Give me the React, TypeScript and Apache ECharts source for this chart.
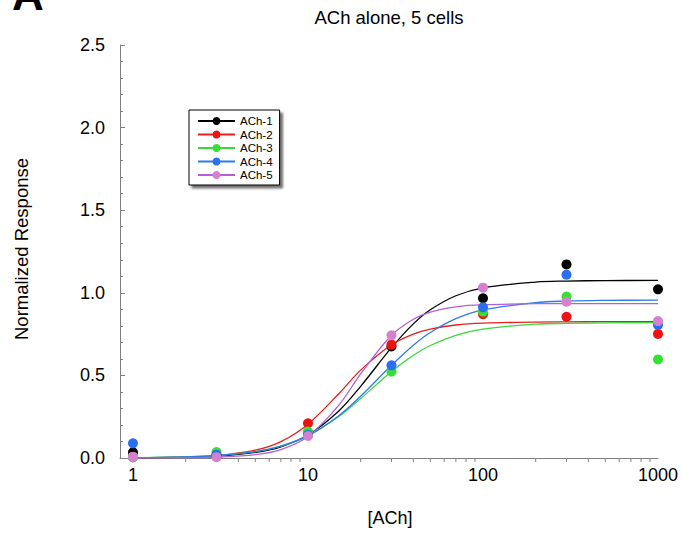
import React, { useEffect, useRef } from "react";
import * as echarts from "echarts";

// Measured concentrations and responses
const concentrations = [1, 3, 10, 30, 100, 300, 1000];
const ach1 = [0.035, 0.015, 0.15, 0.675, 0.967, 1.172, 1.021];
const ach2 = [0.005, 0.01, 0.21, 0.686, 0.87, 0.855, 0.751];
const ach3 = [0.005, 0.036, 0.16, 0.523, 0.886, 0.977, 0.597];
const ach4 = [0.089, 0.02, 0.14, 0.561, 0.912, 1.11, 0.805];
const ach5 = [0.008, 0.005, 0.133, 0.743, 1.031, 0.946, 0.829];

// Fitted curves at these concentrations
const fitX = [1, 2, 3, 5, 7, 10, 15, 20, 30, 40, 50, 70, 100, 200, 300, 500, 1000];
const fit1 = [0.001, 0.005, 0.011, 0.034, 0.068, 0.139, 0.285, 0.434, 0.668, 0.812, 0.897, 0.982, 1.03, 1.065, 1.071, 1.074, 1.075];
const fit2 = [0.001, 0.005, 0.014, 0.047, 0.099, 0.205, 0.389, 0.532, 0.685, 0.75, 0.78, 0.805, 0.816, 0.823, 0.824, 0.825, 0.825];
const fit3 = [0.002, 0.006, 0.014, 0.038, 0.072, 0.134, 0.251, 0.36, 0.523, 0.622, 0.681, 0.743, 0.78, 0.81, 0.815, 0.818, 0.82];
const fit4 = [0.002, 0.007, 0.015, 0.039, 0.072, 0.135, 0.256, 0.374, 0.561, 0.683, 0.76, 0.844, 0.897, 0.941, 0.95, 0.954, 0.956];
const fit5 = [0.0, 0.001, 0.005, 0.02, 0.051, 0.13, 0.32, 0.509, 0.743, 0.84, 0.883, 0.915, 0.928, 0.934, 0.935, 0.935, 0.935];

const seriesNames = ["ACh-1", "ACh-2", "ACh-3", "ACh-4", "ACh-5"];
const pointValues = [ach1, ach2, ach3, ach4, ach5];
const fitValues = [fit1, fit2, fit3, fit4, fit5];
const dotColors = ["#000000", "#ee1111", "#33e033", "#2a6ff0", "#d580d0"];
const lineColors = ["#000000", "#e62020", "#3ad83a", "#2f7ae8", "#b25fd8"];

// x-axis minor ticks (log decades)
const minorTickValues = [
  2, 3, 4, 5, 6, 7, 8, 9,
  20, 30, 40, 50, 60, 70, 80, 90,
  200, 300, 400, 500, 600, 700, 800, 900,
];
const yTicks = { min: 0, max: 2.5, interval: 0.5 };

const FONT = '"Liberation Sans", Arial, Helvetica, sans-serif';
const AXIS_GRAY = "#808080";

export default function App() {
  const ref = useRef<HTMLDivElement>(null);

  useEffect(() => {
    if (!ref.current) return;
    const chart = echarts.init(ref.current, undefined, { renderer: "svg" });

    const lineSeries = seriesNames.map((name, i) => ({
      name,
      type: "line",
      data: fitX.map((x, j) => [x, fitValues[i][j]]),
      showSymbol: false,
      symbol: "circle",
      smooth: 0.35,
      itemStyle: { color: dotColors[i] },
      lineStyle: { color: lineColors[i], width: 1.3 },
      z: 2,
      silent: true,
    }));

    const scatterSeries = seriesNames.map((name, i) => ({
      name: name + " data",
      type: "scatter",
      data: concentrations.map((x, j) => [x, pointValues[i][j]]),
      symbol: "circle",
      symbolSize: 10,
      itemStyle: { color: dotColors[i], opacity: 1 },
      z: 3,
      silent: true,
    }));

    const tickSeries = {
      name: "minorTicks",
      type: "custom",
      coordinateSystem: "cartesian2d",
      data: minorTickValues.map((v) => [v, 0]),
      silent: true,
      z: 1,
      renderItem: (params: any, api: any) => {
        const p = api.coord([api.value(0), 0]);
        return {
          type: "line",
          shape: { x1: p[0], y1: p[1], x2: p[0], y2: p[1] + 4 },
          style: { stroke: AXIS_GRAY, lineWidth: 1 },
        };
      },
    };

    chart.setOption({
      animation: false,
      backgroundColor: "#ffffff",
      grid: { left: 120, right: 24, top: 45, bottom: 78, containLabel: false },
      legend: {
        data: seriesNames,
        orient: "vertical",
        left: 189,
        top: 110,
        padding: [5, 7, 4, 8],
        itemWidth: 37,
        itemHeight: 10,
        itemGap: 1.5,
        backgroundColor: "#ffffff",
        borderColor: "#000000",
        borderWidth: 1,
        borderRadius: 0,
        shadowColor: "rgba(0,0,0,0.55)",
        shadowBlur: 2,
        shadowOffsetX: 3,
        shadowOffsetY: 3,
        selectedMode: false,
        textStyle: { fontFamily: FONT, fontSize: 11.5, color: "#000", lineHeight: 11.5 },
      },
      xAxis: {
        type: "log",
        logBase: 10,
        min: 0.843,
        max: 1000,
        splitLine: { show: false },
        axisLine: { show: true, lineStyle: { color: AXIS_GRAY, width: 1 } },
        axisTick: { show: false },
        minorTick: { show: false },
        axisLabel: {
          show: true,
          margin: 8,
          showMinLabel: false,
          showMaxLabel: true,
          color: "#000",
          fontFamily: FONT,
          fontSize: 18,
          formatter: (v: number) => {
            const l = Math.log10(v);
            return Math.abs(l - Math.round(l)) < 1e-6 ? String(Math.round(v)) : "";
          },
        },
      },
      yAxis: {
        type: "value",
        min: yTicks.min,
        max: yTicks.max,
        interval: yTicks.interval,
        splitLine: { show: false },
        axisLine: { show: true, lineStyle: { color: AXIS_GRAY, width: 1 } },
        axisTick: { show: true, inside: true, length: 5, lineStyle: { color: AXIS_GRAY } },
        minorTick: { show: true, splitNumber: 5, length: 3, lineStyle: { color: AXIS_GRAY } },
        axisLabel: {
          margin: 15,
          color: "#000",
          fontFamily: FONT,
          fontSize: 18,
          formatter: (v: number) => v.toFixed(1),
        },
      },
      graphic: [
        {
          type: "text",
          x: 12,
          y: -6,
          silent: true,
          style: {
            text: "A",
            fill: "#000",
            font: `bold 44px ${FONT}`,
            align: "left",
            verticalAlign: "middle",
          },
        },
        {
          type: "text",
          x: 389,
          y: 17,
          silent: true,
          style: {
            text: "ACh alone, 5 cells",
            fill: "#000",
            font: `18.5px ${FONT}`,
            align: "center",
            verticalAlign: "middle",
          },
        },
        {
          type: "text",
          x: 21,
          y: 249,
          rotation: Math.PI / 2,
          silent: true,
          style: {
            text: "Normalized Response",
            fill: "#000",
            font: `18.5px ${FONT}`,
            align: "center",
            verticalAlign: "middle",
          },
        },
        {
          type: "text",
          x: 390,
          y: 518,
          silent: true,
          style: {
            text: "[ACh]",
            fill: "#000",
            font: `18px ${FONT}`,
            align: "center",
            verticalAlign: "middle",
          },
        },
      ],
      series: [...lineSeries, ...scatterSeries, tickSeries],
    });

    return () => {
      chart.dispose();
    };
  }, []);

  return (
    <div
      ref={ref}
      style={{ position: "fixed", left: 0, top: 0, width: 682, height: 536 }}
    />
  );
}
